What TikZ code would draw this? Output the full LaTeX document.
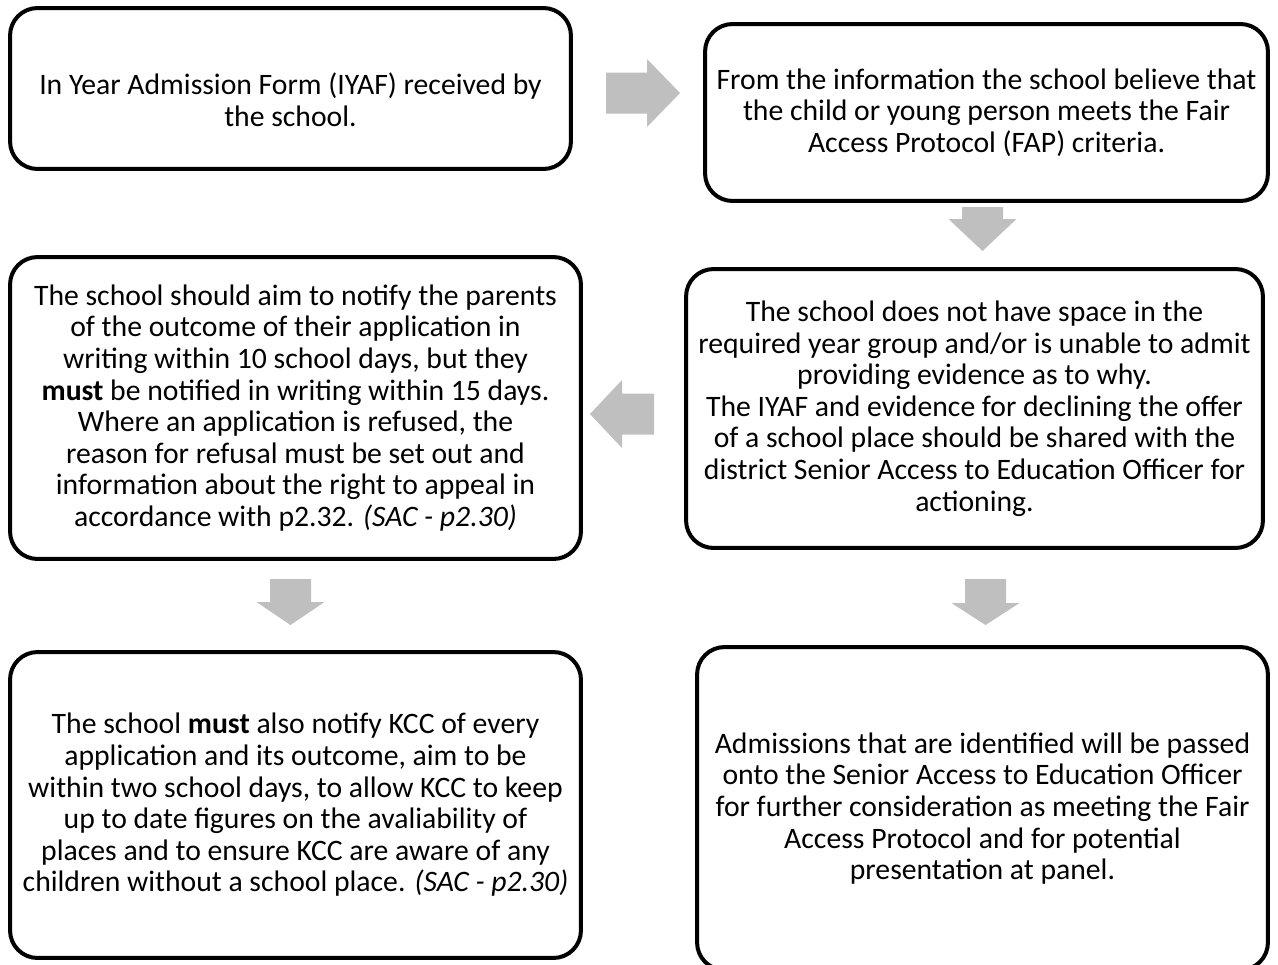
\documentclass[tikz,border=0pt]{standalone}
\usepackage{fontspec}
\setmainfont{Carlito}
\usepackage{tikz}
\usetikzlibrary{positioning}

\definecolor{arrowgrey}{RGB}{191,191,191}

\tikzset{
  pics/blockarrow/.style args={#1/#2}{code={
    \fill[arrowgrey] (0,-20.5) -- ({#1-#2},-20.5) -- ({#1-#2},-34) -- (#1,0)
      -- ({#1-#2},34) -- ({#1-#2},20.5) -- (0,20.5) -- cycle;
  }},
}

\begin{document}
\begin{tikzpicture}[
  x=0.02cm, y=-0.02cm,
  box/.style={draw, rectangle, rounded corners=0.55cm, line width=0.08cm,
    align=center, inner sep=0pt,
    font=\fontsize{16.9}{18}\selectfont},
  ]
  \useasboundingbox (0,0) rectangle (1278,964);

  % boxes
  \node[box, minimum width=11.22cm, minimum height=3.22cm](iyaf) at (290.5,88.5)
    {\rule{0pt}{25pt}In Year Admission Form (IYAF) received by\\ the school.};
  \node[box, minimum width=11.26cm, minimum height=3.54cm](fap) at (986.5,112.5)
    {From the information the school believe that\\
     the child or young person meets the Fair\\
     Access Protocol (FAP) criteria.};
  \node[box, minimum width=11.54cm, minimum height=5.58cm](nospace) at (974.5,408.5)
    {The school does not have space in the\\
     required year group and/or is unable to admit\\
     providing evidence as to why.\\
     The IYAF and evidence for declining the offer\\
     of a school place should be shared with the\\
     district Senior Access to Education Officer for\\
     actioning.};
  \node[box, minimum width=11.42cm, minimum height=6.04cm](notify) at (295.5,408)
    {The school should aim to notify the parents\\
     of the outcome of their application in\\
     writing within 10 school days, but they\\
     \textbf{must} be notified in writing within 15 days.\\
     Where an application is refused, the\\
     reason for refusal must be set out and\\
     information about the right to appeal in\\
     accordance with p2.32. \textit{(SAC - p2.30)}};
  \node[box, minimum width=11.42cm, minimum height=6.12cm](kcc) at (295.5,805)
    {The school \textbf{must} also notify KCC of every\\
     application and its outcome, aim to be\\
     within two school days, to allow KCC to keep\\
     up to date figures on the avaliability of\\
     places and to ensure KCC are aware of any\\
     children without a school place. \textit{(SAC - p2.30)}};
  \node[box, minimum width=11.42cm, minimum height=6.46cm](saeo) at (982.5,808.5)
    {Admissions that are identified will be passed\\
     onto the Senior Access to Education Officer\\
     for further consideration as meeting the Fair\\
     Access Protocol and for potential\\
     presentation at panel.};

  % block arrows
  \pic at (606,93) {blockarrow=74/33};
  \pic[rotate=-90] at (982.5,207) {blockarrow=44/32};
  \pic[rotate=180] at (654,414) {blockarrow=64/32};
  \pic[rotate=-90] at (290.5,579) {blockarrow=46/23};
  \pic[rotate=-90] at (985.5,579) {blockarrow=46/22};
\end{tikzpicture}
\end{document}
